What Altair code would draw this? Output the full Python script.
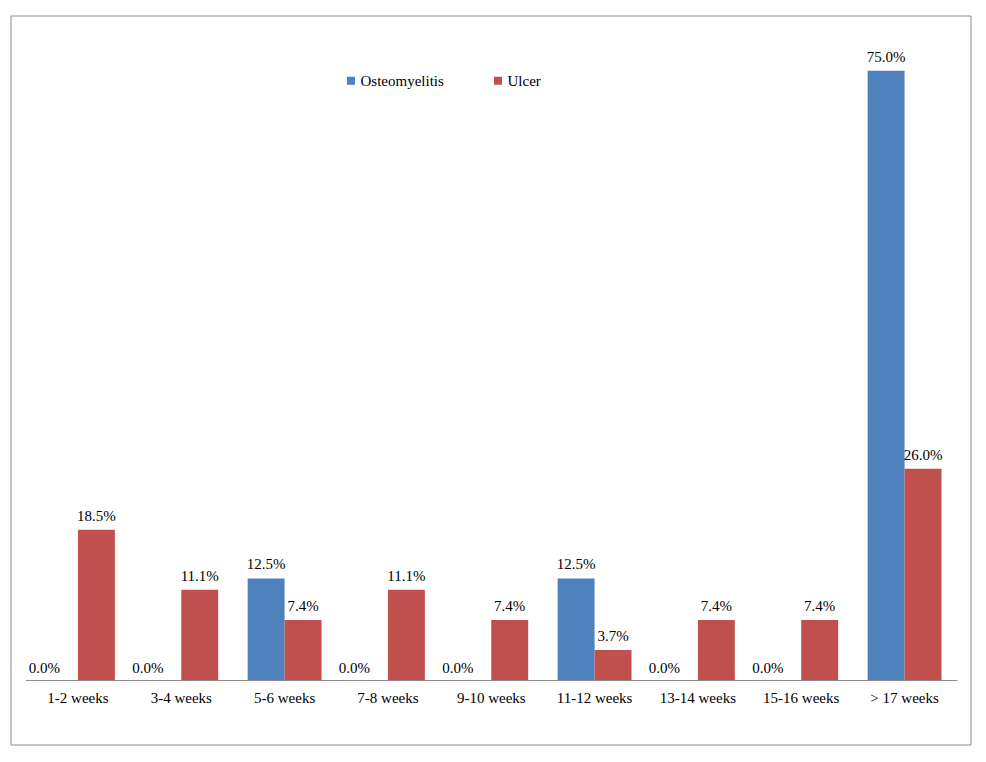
import altair as alt
import pandas as pd

categories = ["1-2 weeks", "3-4 weeks", "5-6 weeks", "7-8 weeks", "9-10 weeks",
              "11-12 weeks", "13-14 weeks", "15-16 weeks", "> 17 weeks"]
series_names = ["Osteomyelitis", "Ulcer"]
osteomyelitis = [0.0, 0.0, 12.5, 0.0, 0.0, 12.5, 0.0, 0.0, 75.0]
ulcer = [18.5, 11.1, 7.4, 11.1, 7.4, 3.7, 7.4, 7.4, 26.0]
colors = ["#4F81BD", "#C0504D"]

rows = []
for c, o, u in zip(categories, osteomyelitis, ulcer):
    rows.append({"category": c, "series": series_names[0], "value": o})
    rows.append({"category": c, "series": series_names[1], "value": u})
df = pd.DataFrame(rows)

FONT = "'Liberation Serif', 'Times New Roman', serif"
FS = 15
W, H = 931.5, 650

x_enc = alt.X("category:N", sort=categories, title=None,
              scale=alt.Scale(paddingInner=0.285, paddingOuter=0.15),
              axis=alt.Axis(labelAngle=0, ticks=False, domainColor="#8c8c8c",
                            labelFont=FONT, labelFontSize=FS, labelColor="black",
                            labelPadding=10))
xoff = alt.XOffset("series:N", sort=series_names,
                   scale=alt.Scale(paddingInner=0, paddingOuter=0))
y_enc = alt.Y("value:Q", scale=alt.Scale(domain=[0, 80]), axis=None)

base = alt.Chart(df)

bars = base.mark_bar().encode(
    x=x_enc, xOffset=xoff, y=y_enc,
    color=alt.Color("series:N", sort=series_names,
                    scale=alt.Scale(domain=series_names, range=colors),
                    legend=alt.Legend(orient="none", legendX=318, legendY=43,
                                      direction="horizontal", title=None,
                                      symbolType="square", symbolSize=64,
                                      symbolStrokeWidth=0, labelFont=FONT,
                                      labelFontSize=FS, labelColor="black",
                                      labelOffset=2, columnPadding=46))
)

labels_nonzero = base.transform_filter("datum.value > 0").transform_calculate(
    label="format(datum.value, '.1f') + '%'"
).mark_text(font=FONT, fontSize=FS, color="black", baseline="alphabetic", dy=-9).encode(
    x=x_enc, xOffset=xoff, y=y_enc, text="label:N"
)

labels_zero = base.transform_filter("datum.value == 0").transform_calculate(
    label="format(datum.value, '.1f') + '%'"
).mark_text(font=FONT, fontSize=FS, color="black", baseline="alphabetic", dy=-7, dx=-15).encode(
    x=x_enc, xOffset=xoff, y=y_enc, text="label:N"
)

frame = alt.Chart(pd.DataFrame({"a": [0]})).mark_rect(
    filled=False, stroke="#8c8c8c", strokeWidth=1
).encode(
    x=alt.value(-14.5), x2=alt.value(945.5), y=alt.value(-14), y2=alt.value(715)
)

chart = alt.layer(bars, labels_nonzero, labels_zero, frame).properties(
    width=W, height=H,
    autosize=alt.AutoSizeParams(type="none"),
    padding={"left": 17.5, "top": 22, "right": 20, "bottom": 70},
).configure(background="white").configure_view(strokeWidth=0, stroke="transparent")

chart.save("out.html", embed_options={"renderer": "svg", "actions": False})
